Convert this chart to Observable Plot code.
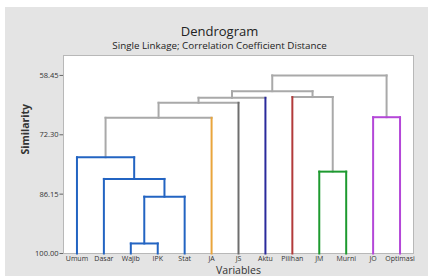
<!DOCTYPE html>
<html>
<head>
<meta charset="utf-8">
<script src="https://cdn.jsdelivr.net/npm/d3@7"></script>
<script src="https://cdn.jsdelivr.net/npm/@observablehq/plot@0.6"></script>
<style>
  html, body { margin: 0; padding: 0; background: #ffffff; }
  #wrap { position: relative; width: 428px; height: 278px; overflow: hidden; }
  #bg { position: absolute; left: 5px; top: 7px; width: 423px; height: 269px; background: #e4e4e4; }
  #chart { position: absolute; left: 0; top: 0; }
</style>
</head>
<body>
<div id="wrap"><div id="bg"></div><div id="chart"></div></div>
<script>
// ---- data ----
const leaves = ["Umum","Dasar","Wajib","IPK","Stat","JA","JS","Aktu","Pilihan","JM","Murni","JO","Optimasi"];
const leafCluster = [0,0,0,0,0,1,2,3,4,5,5,6,6];
const clusterColors = ["#2364c2","#e9a53c","#6e6e6e","#2a2a9c","#b23a3a","#1d9a2f","#b447d8"];
const linkGray = "#a9a9a9";
// merges: node ids 0..12 are leaves, merge k creates node 13+k
const mergeA   = [2, 13, 1, 9, 0, 17, 11, 18, 20, 8, 21, 23];
const mergeB   = [3, 4, 14, 10, 15, 5, 12, 6, 7, 16, 22, 19];
const mergeSim = [97.66, 86.74, 82.60, 80.90, 77.55, 68.34, 68.20, 64.84, 63.67, 63.50, 62.12, 58.45];
const mergeCluster = [0, 0, 0, 5, 0, null, 6, null, null, null, null, null];
const yTicks = [58.45, 72.30, 86.15, 100.00];

// ---- build link segments ----
const nLeaf = leaves.length;
const pos = leaves.map((_, i) => i);
const sim = leaves.map(() => 100);
const segs = [];
mergeA.forEach((a, k) => {
  const b = mergeB[k], s = mergeSim[k], id = nLeaf + k;
  const c = mergeCluster[k] == null ? linkGray : clusterColors[mergeCluster[k]];
  const vc = ch => ch < nLeaf ? clusterColors[leafCluster[ch]] : c;
  segs.push({x1: pos[a], y1: sim[a], x2: pos[a], y2: s, color: vc(a)});
  segs.push({x1: pos[b], y1: sim[b], x2: pos[b], y2: s, color: vc(b)});
  segs.push({x1: pos[a], y1: s, x2: pos[b], y2: s, color: c});
  pos[id] = (pos[a] + pos[b]) / 2;
  sim[id] = s;
});
segs.sort((p, q) => (p.color === linkGray ? 0 : 1) - (q.color === linkGray ? 0 : 1));

const font = "'Open Sans', 'Noto Sans', sans-serif";
const chart = Plot.plot({
  width: 428,
  height: 278,
  marginTop: 55,
  marginBottom: 25,
  marginLeft: 63,
  marginRight: 15,
  style: {background: "transparent", fontFamily: font, color: "#333"},
  x: {domain: [-0.5, nLeaf - 0.5]},
  y: {domain: [100, 53.8]},
  color: {type: "identity"},
  marks: [
    Plot.frame({fill: "white", stroke: "#b8b8b8"}),
    Plot.axisY({ticks: yTicks, tickFormat: d => d.toFixed(2), tickSize: 3.5, tickPadding: 1.5, fontSize: 7.5, label: null, stroke: "#666"}),
    Plot.axisX({ticks: pos.slice(0, nLeaf), tickFormat: i => leaves[i], tickSize: 0, tickPadding: 3, fontSize: 7, label: null}),
    Plot.link(segs, {x1: "x1", y1: "y1", x2: "x2", y2: "y2", stroke: "color", strokeWidth: 2, strokeLinecap: "square"}),
    Plot.text(["Dendrogram"], {frameAnchor: "top", dx: -19, dy: -29, fontSize: 13, fill: "#222"}),
    Plot.text(["Single Linkage; Correlation Coefficient Distance"], {frameAnchor: "top", dx: -19, dy: -13, fontSize: 9.8, fill: "#222"}),
    Plot.text(["Similarity"], {frameAnchor: "left", dx: -38, rotate: -90, fontSize: 10.5, fontWeight: "bold", fill: "#333"}),
    Plot.text(["Variables"], {frameAnchor: "bottom", dy: 20.5, fontSize: 10.5, fill: "#333"})
  ]
});
document.getElementById("chart").appendChild(chart);
</script>
</body>
</html>
